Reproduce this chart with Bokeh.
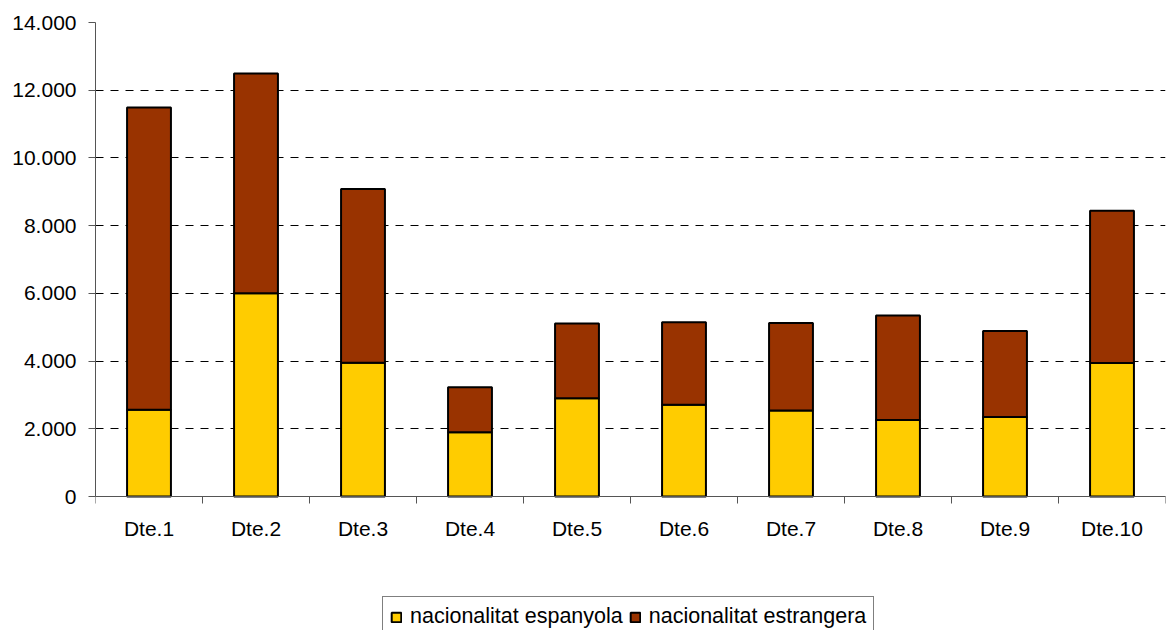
from bokeh.plotting import figure
from bokeh.models import (ColumnDataSource, Range1d, FixedTicker,
                          CustomJSTickFormatter, Legend, LegendItem)
from bokeh.embed import file_html
from bokeh.resources import INLINE

# Residents per district, split by nationality
districtes = ["Dte.1", "Dte.2", "Dte.3", "Dte.4", "Dte.5",
              "Dte.6", "Dte.7", "Dte.8", "Dte.9", "Dte.10"]
espanyola = [2560, 6000, 3950, 1900, 2900, 2710, 2540, 2260, 2350, 3940]
estrangera = [8930, 6490, 5130, 1330, 2210, 2435, 2585, 3085, 2540, 4500]
series_labels = ["nacionalitat espanyola", "nacionalitat estrangera"]
y_ticks = [0, 2000, 4000, 6000, 8000, 10000, 12000, 14000]

FONT = "Liberation Sans"
AXIS_GREY = "#555555"

# layout: the frame runs down to the bottom of the canvas; the value axis
# occupies the top 474 px of it and the area below holds labels and legend
W, H = 1169, 630
TOP, LEFT, RIGHT = 22, 95, 4
AXIS_PX = 474
below_px = H - TOP - AXIS_PX
y_min = -y_ticks[-1] * below_px / AXIS_PX

pos = list(range(1, len(districtes) + 1))
source = ColumnDataSource(dict(x=pos, espanyola=espanyola, estrangera=estrangera))

p = figure(width=W, height=H, output_backend="svg", toolbar_location=None,
           x_range=Range1d(0.5, len(districtes) + 0.5),
           y_range=Range1d(y_min, y_ticks[-1]),
           min_border_left=LEFT, min_border_right=RIGHT,
           min_border_top=TOP, min_border_bottom=0)
p.outline_line_color = None
p.background_fill_color = "white"
p.border_fill_color = "white"

bars = p.vbar_stack(["espanyola", "estrangera"], x="x", width=0.41, source=source,
                    fill_color=["#FFCC00", "#993300"], line_color="black",
                    line_width=2)

# horizontal dashed grid
p.xgrid.visible = False
p.ygrid.ticker = FixedTicker(ticks=y_ticks)
p.ygrid.grid_line_color = "black"
p.ygrid.grid_line_dash = "8 7"
p.ygrid.grid_line_width = 1

# value axis with "." as thousands separator
p.yaxis.ticker = FixedTicker(ticks=y_ticks)
p.yaxis.bounds = (y_ticks[0], y_ticks[-1])
p.yaxis.formatter = CustomJSTickFormatter(code="""
    return Math.round(tick).toString().replace(/\\B(?=(\\d{3})+(?!\\d))/g, '.');
""")
p.yaxis.major_label_text_font = FONT
p.yaxis.major_label_text_font_size = "21px"
p.yaxis.major_label_text_color = "black"
p.yaxis.major_tick_out = 7
p.yaxis.major_tick_in = 0
p.yaxis.minor_tick_out = 0
p.yaxis.minor_tick_in = 0
p.yaxis.major_label_standoff = 12
p.yaxis.axis_line_color = AXIS_GREY
p.yaxis.major_tick_line_color = AXIS_GREY

# category axis sitting on y = 0: labels at bar centres, ticks between categories
xa = p.xaxis[0]
xa.fixed_location = 0
xa.ticker = FixedTicker(ticks=pos,
                        minor_ticks=[i + 0.5 for i in range(len(districtes) + 1)])
xa.major_label_overrides = {i: name for i, name in zip(pos, districtes)}
xa.major_label_text_font = FONT
xa.major_label_text_font_size = "21px"
xa.major_label_text_color = "black"
xa.major_tick_out = 0
xa.major_tick_in = 0
xa.minor_tick_out = 7
xa.minor_tick_in = 0
xa.major_label_standoff = 13
xa.axis_line_color = AXIS_GREY
xa.minor_tick_line_color = AXIS_GREY

legend = Legend(
    items=[LegendItem(label=series_labels[0], renderers=[bars[0]]),
           LegendItem(label=series_labels[1], renderers=[bars[1]])],
    orientation="horizontal", location=(287, -7),
    label_text_font=FONT, label_text_font_size="21.5px", label_text_color="black",
    glyph_width=12, glyph_height=12, label_height=24, label_standoff=8, spacing=6,
    padding=7, margin=0,
    border_line_color="black", border_line_width=1,
    background_fill_color="white", background_fill_alpha=1.0,
)
p.add_layout(legend, "center")

open("out.html", "w").write(file_html(p, INLINE))
